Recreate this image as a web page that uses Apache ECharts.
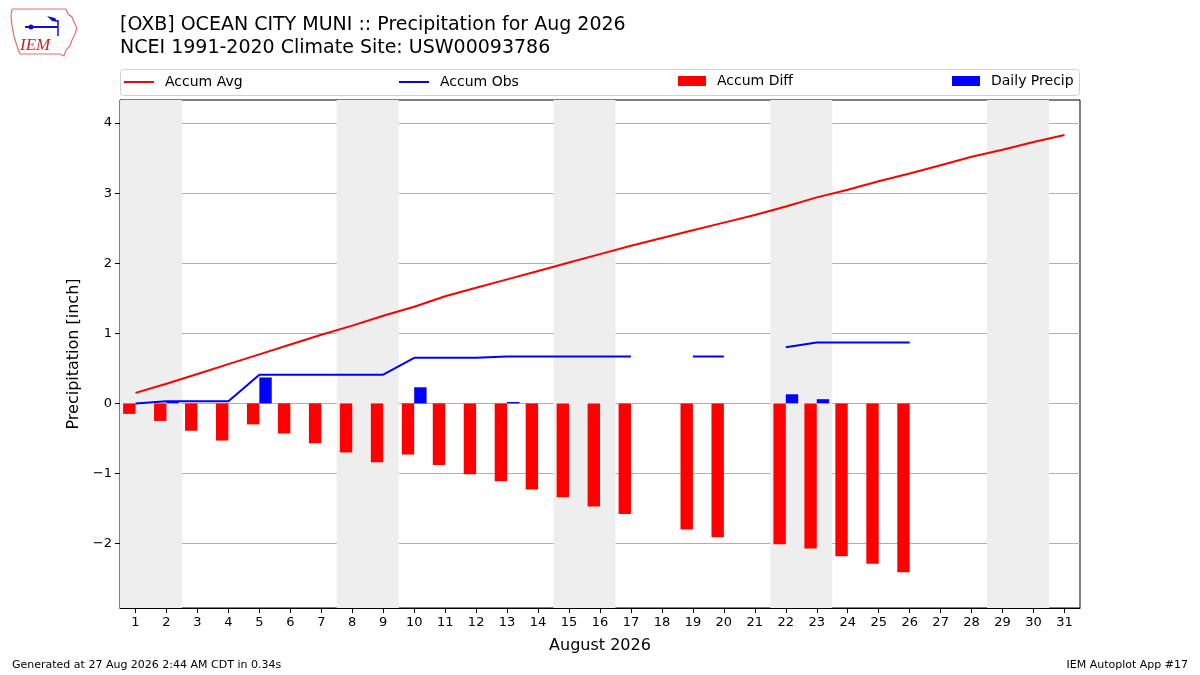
<!DOCTYPE html>
<html>
<head>
<meta charset="utf-8">
<script src="https://cdn.jsdelivr.net/npm/echarts@6/dist/echarts.min.js"></script>
<style>html,body{margin:0;padding:0;background:#fff;}#c{width:1200px;height:675px;}</style>
</head>
<body>
<div id="c"></div>
<script>
const days = ['1','2','3','4','5','6','7','8','9','10','11','12','13','14','15','16','17','18','19','20','21','22','23','24','25','26','27','28','29','30','31'];
const accumAvg = [0.15,0.28,0.42,0.56,0.70,0.84,0.98,1.11,1.25,1.38,1.53,1.65,1.77,1.89,2.01,2.13,2.25,2.36,2.47,2.58,2.69,2.81,2.94,3.05,3.17,3.28,3.40,3.52,3.62,3.73,3.83];
const accumObs = [0.00,0.03,0.03,0.03,0.41,0.41,0.41,0.41,0.41,0.65,0.65,0.65,0.67,0.67,0.67,0.67,0.67,null,0.67,0.67,null,0.80,0.87,0.87,0.87,0.87,null,null,null,null,null];
const accumDiff = [-0.15,-0.25,-0.39,-0.53,-0.30,-0.43,-0.57,-0.70,-0.84,-0.73,-0.88,-1.01,-1.11,-1.23,-1.34,-1.47,-1.58,null,-1.80,-1.91,null,-2.01,-2.07,-2.18,-2.29,-2.41,null,null,null,null,null];
const dailyPrecip = [0,0.02,0,0,0.37,0,0,0,0,0.23,0,0,0.02,0,0,0,0,null,0,0,null,0.13,0.06,0,0,0,null,null,null,null,null];
const weekendDays = [[1,2],[8,9],[15,16],[22,23],[29,30]];
const yTicks = [-2,-1,0,1,2,3,4];

const FONT = 'DejaVu Sans';
const chart = echarts.init(document.getElementById('c'), null, {renderer:'canvas'});

const legendCommon = {padding:0, orient:'horizontal',
  textStyle:{fontFamily:FONT, fontSize:14, color:'#000', padding:[0,0,0,6]}, selectedMode:false};

const option = {
  backgroundColor:'#fff',
  animation:false,
  title:[
    {text:'[OXB] OCEAN CITY MUNI :: Precipitation for Aug 2026', left:120, top:16, padding:0,
     textStyle:{fontFamily:FONT, fontSize:19, fontWeight:'normal', color:'#000'}},
    {text:'NCEI 1991-2020 Climate Site: USW00093786', left:120, top:39, padding:0,
     textStyle:{fontFamily:FONT, fontSize:19, fontWeight:'normal', color:'#000'}}
  ],
  graphic:[
    {type:'rect', shape:{x:120.5, y:69.5, width:959, height:26, r:3}, style:{fill:'#fff', stroke:'#d0d0d0', lineWidth:1}, z:-10},
    {type:'polyline', shape:{points:[[12,9],[66,9],[68,14],[72,17],[74,22],[77,28],[75,34],[72,40],[70,46],[66,50],[64,56],[60,54],[20,54],[17,46],[14,36],[12,26],[11,16],[12,9]]},
     style:{stroke:'#e07070', lineWidth:1.2, fill:'none'}},
    {type:'line', shape:{x1:25, y1:27, x2:58, y2:27}, style:{stroke:'#1010d0', lineWidth:2}},
    {type:'line', shape:{x1:58, y1:20, x2:58, y2:36}, style:{stroke:'#1010d0', lineWidth:1.5}},
    {type:'polygon', shape:{points:[[47,16],[55,18],[58,22],[52,21]]}, style:{fill:'#1010d0'}},
    {type:'circle', shape:{cx:31, cy:27, r:2.5}, style:{fill:'#1010d0'}},
    {type:'text', style:{text:'IEM', x:20, y:37, font:'italic 17px "Liberation Serif", serif', fill:'#d02020'}},
    {type:'text', style:{text:'Generated at 27 Aug 2026 2:44 AM CDT in 0.34s', x:12, y:660, font:'11px "DejaVu Sans"', fill:'#000'}},
    {type:'text', style:{text:'IEM Autoplot App #17', x:1188, y:660, textAlign:'right', font:'11px "DejaVu Sans"', fill:'#000'}}
  ],
  legend:[
    Object.assign({}, legendCommon, {left:124, top:75, itemWidth:30, itemHeight:2, data:[{name:'Accum Avg', icon:'rect'}]}),
    Object.assign({}, legendCommon, {left:399, top:75, itemWidth:30, itemHeight:2, data:[{name:'Accum Obs', icon:'rect'}]}),
    Object.assign({}, legendCommon, {left:678, top:74, itemWidth:28, itemHeight:10, data:[{name:'Accum Diff', icon:'rect'}]}),
    Object.assign({}, legendCommon, {left:952, top:74, itemWidth:28, itemHeight:10, data:[{name:'Daily Precip', icon:'rect'}]})
  ],
  grid:{left:120, right:120, top:100, bottom:67, show:true, borderColor:'#000', borderWidth:1, backgroundColor:'transparent'},
  xAxis:[
    {type:'category', data:days, boundaryGap:true, gridIndex:0,
     name:'August 2026', nameLocation:'middle', nameGap:30,
     nameTextStyle:{fontFamily:FONT, fontSize:16, color:'#000'},
     axisLine:{show:true, onZero:false, lineStyle:{color:'#000', width:1}},
     axisTick:{show:true, alignWithLabel:true, interval:0, length:5, lineStyle:{color:'#000'}},
     axisLabel:{interval:0, fontFamily:FONT, fontSize:13, color:'#000', margin:8},
     splitLine:{show:false}},
    {type:'value', min:0.5, max:31.5, show:false, gridIndex:0}
  ],
  yAxis:{type:'value', min:-2.92, max:4.33,
    name:'Precipitation [inch]', nameLocation:'middle', nameGap:38,
    nameTextStyle:{fontFamily:FONT, fontSize:16, color:'#000'},
    axisLine:{show:true, lineStyle:{color:'#000', width:1}},
    axisTick:{show:true, length:5, lineStyle:{color:'#000'}, customValues:yTicks},
    axisLabel:{fontFamily:FONT, fontSize:13, color:'#000', margin:8, customValues:yTicks,
      formatter:v => (v<0 ? '\u2212'+Math.abs(v) : String(v))},
    splitLine:{show:true, lineStyle:{color:'#b0b0b0', width:1}}},
  series:[
    {type:'line', xAxisIndex:1, data:[], z:-1, silent:true,
     markArea:{silent:true, itemStyle:{color:'#eeeeee'},
       data: weekendDays.map(d => [{xAxis:d[0]-0.5}, {xAxis:d[1]+0.5}])}},
    {name:'Accum Avg', type:'line', data:accumAvg, symbol:'none', showSymbol:false,
     lineStyle:{color:'#ff0000', width:2}, itemStyle:{color:'#ff0000'}, z:5},
    {name:'Accum Obs', type:'line', data:accumObs, symbol:'none', showSymbol:false, connectNulls:false,
     lineStyle:{color:'#0000ff', width:2}, itemStyle:{color:'#0000ff'}, z:5},
    {name:'Accum Diff', type:'bar', data:accumDiff, barWidth:'40%', barGap:'0%',
     itemStyle:{color:'#ff0000'}, z:3},
    {name:'Daily Precip', type:'bar', data:dailyPrecip, barWidth:'40%', barGap:'0%',
     itemStyle:{color:'#0000ff'}, z:3}
  ]
};
chart.setOption(option);
</script>
</body>
</html>
